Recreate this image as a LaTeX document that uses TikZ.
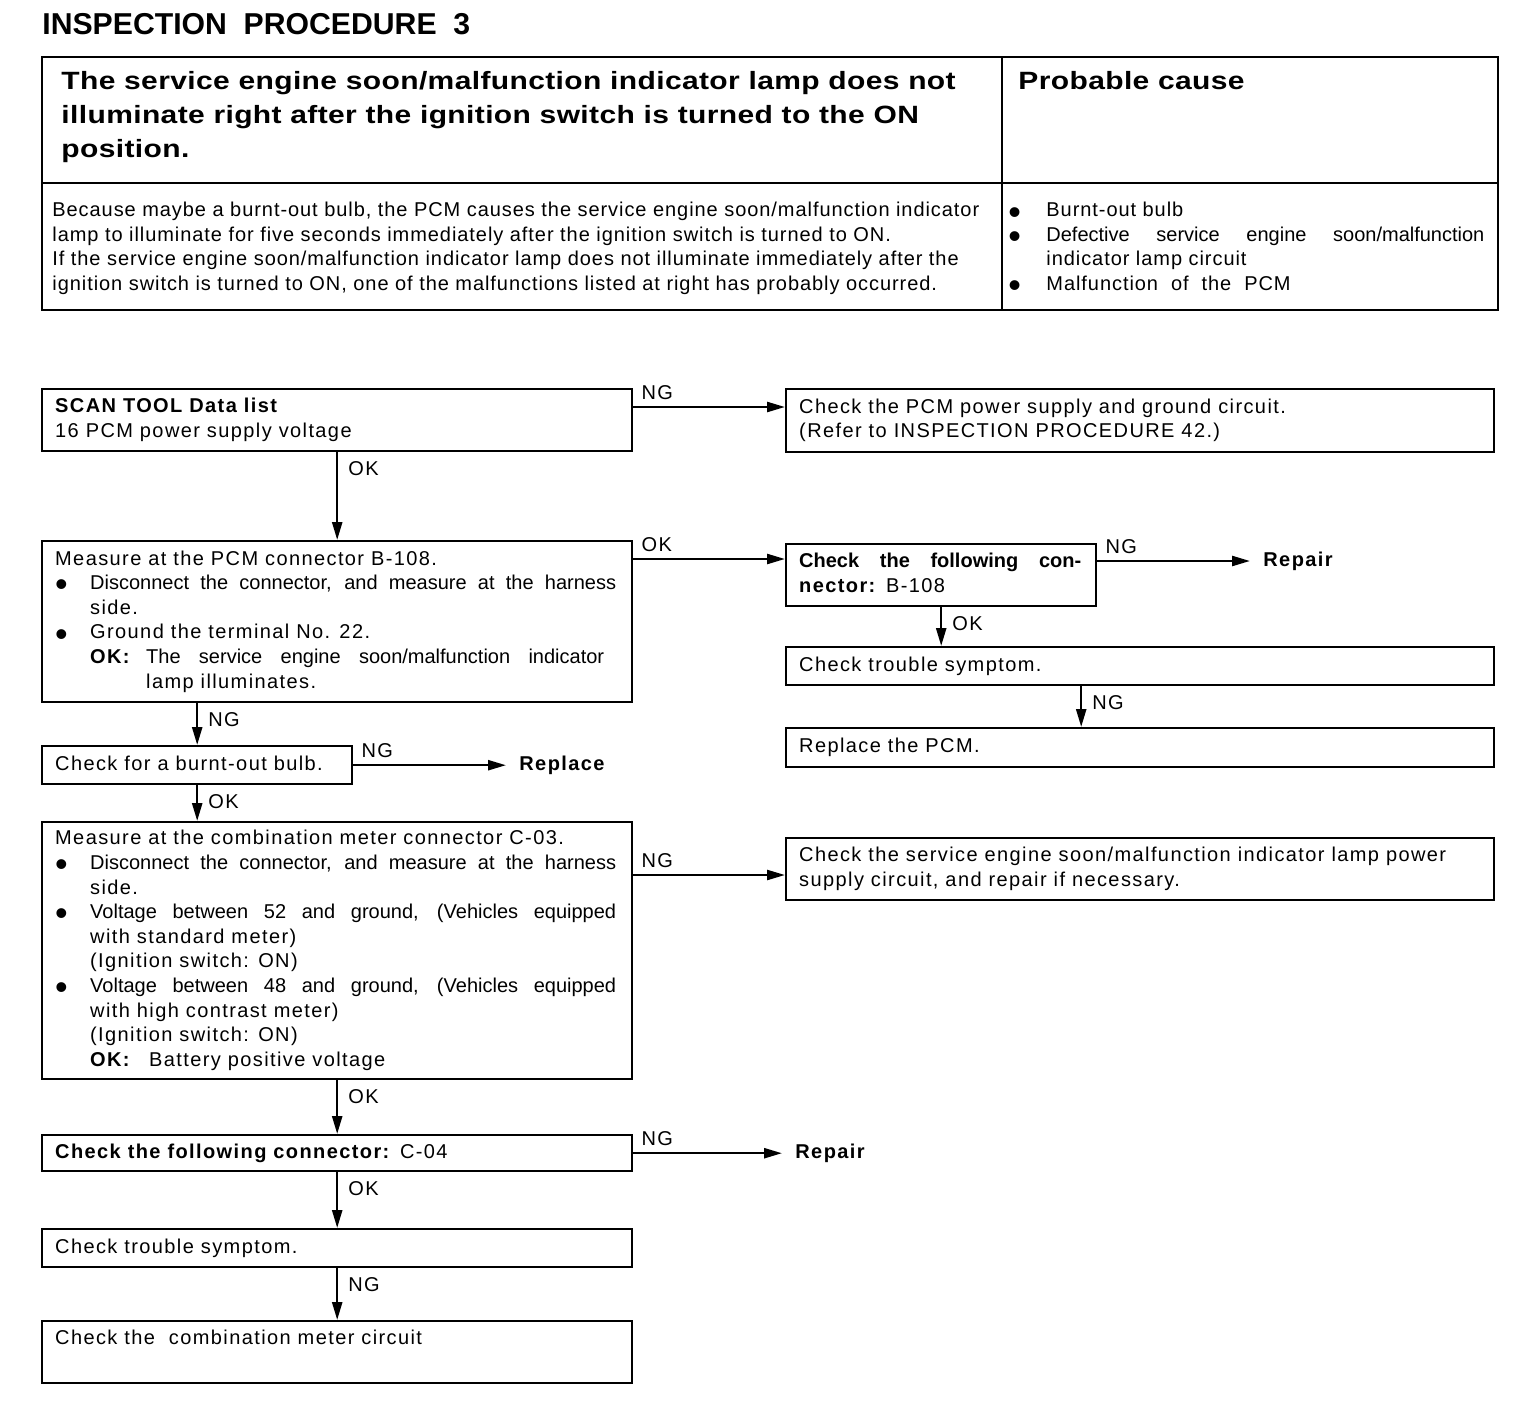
\documentclass[tikz,border=0pt]{standalone}
\usepackage{graphicx}
\usepackage{fontspec}
\setmainfont{Liberation Sans}
\newfontfamily\flowfont[LetterSpace=7]{Liberation Sans}
\newfontfamily\tabfont[LetterSpace=4.7]{Liberation Sans}
\newfontfamily\headfont[FakeStretch=1.2, LetterSpace=1.5]{Liberation Sans}
\usetikzlibrary{arrows.meta, positioning, calc}

\newcommand{\fs}{\fontsize{10pt}{12.3pt}\selectfont}
\newcommand{\dotmark}{\smash{\raisebox{-0.36em}{\scalebox{1.8}{\textbullet}}}}
\newcommand{\bitem}{\makebox[17.5pt][l]{\dotmark}}
\newcommand{\bcont}{\hspace*{17.5pt}}
\newcommand{\jline}[2]{\makebox[#1][s]{\rmfamily\spaceskip=0pt\relax #2}}

\begin{document}
\begin{tikzpicture}[
    x=0.5pt, y=-0.5pt,
    every node/.style={font=\flowfont\fs},
    box/.style={draw, line width=1.2pt, anchor=north west, align=flush left,
                inner xsep=6.5pt, inner ysep=0pt,
                execute at begin node=\strut, execute at end node=\strut},
    wide/.style={box, minimum width=295pt, text width=282pt},
    full/.style={box, minimum width=354pt, text width=341pt},
    narrow/.style={box, minimum width=155pt, text width=142pt},
    fix/.style={font=\flowfont\fs\bfseries, anchor=west, inner xsep=6.5pt, inner ysep=0pt},
    arr/.style={-{Triangle[length=9pt, width=5pt]}, line width=1.2pt},
    hlab/.style={pos=0, anchor=south west, inner xsep=3.5pt, inner ysep=3pt},
    vlab/.style={pos=0, anchor=north west, inner xsep=5pt, inner ysep=4pt}
]
\fill[white] (0,0) rectangle (1520,1418);
\useasboundingbox (0,0) rectangle (1520,1418);

% Title and table
\node[anchor=north west, inner sep=0pt,
      font=\fontsize{15.1pt}{18pt}\selectfont\bfseries] (title) at (42,13)
  {INSPECTION\ \ PROCEDURE\ \ 3};
\draw[line width=0.9pt] (42,57) rectangle (1498,310);
\draw[line width=0.9pt] (42,183) -- (1498,183);
\draw[line width=0.9pt] (1002,57) -- (1002,310);
\node[anchor=north west, inner sep=0pt, align=flush left,
      font=\headfont\fontsize{12.5pt}{17pt}\selectfont\bfseries] (symptom) at (61,71)
  {The service engine soon/malfunction indicator lamp does not\\
   illuminate right after the ignition switch is turned to the ON\\
   position.};
\node[anchor=north west, inner sep=0pt,
      font=\headfont\fontsize{12.5pt}{17pt}\selectfont\bfseries] (probable) at (1018,71)
  {Probable cause};
\node[anchor=north west, inner sep=0pt, align=flush left,
      font=\tabfont\fontsize{10pt}{12.25pt}\selectfont] (expl) at (52,202)
  {Because maybe a burnt-out bulb, the PCM causes the service engine soon/malfunction indicator\\
   lamp to illuminate for five seconds immediately after the ignition switch is turned to ON.\\
   If the service engine soon/malfunction indicator lamp does not illuminate immediately after the\\
   ignition switch is turned to ON, one of the malfunctions listed at right has probably occurred.};
\node[anchor=north west, inner sep=0pt, align=flush left,
      font=\tabfont\fontsize{10pt}{12.25pt}\selectfont] (causes) at (1008,202)
  {\makebox[19pt][l]{\dotmark}Burnt-out bulb\\
   \makebox[19pt][l]{\dotmark}\jline{219pt}{Defective service engine soon/malfunction}\\
   \hspace*{19pt}indicator lamp circuit\\
   \makebox[19pt][l]{\dotmark}Malfunction\ \ of\ \ the\ \ PCM};

% Left column
\node[wide, minimum height=31pt] (scan) at (41,388)
  {\textbf{SCAN TOOL Data list}\\16 PCM power supply voltage};
\node[wide, minimum height=80.5pt] (pcmcon) at (41,540)
  {Measure at the PCM connector B-108.\\
   \bitem\jline{263pt}{Disconnect the connector, and measure at the harness}\\
   \bcont side.\\
   \bitem Ground the terminal No. 22.\\
   \bcont\makebox[28pt][l]{\textbf{OK:}}\jline{229pt}{The service engine soon/malfunction indicator}\\
   \hspace*{45.5pt}lamp illuminates.};
\node[narrow, minimum height=19pt] (bulb) at (41,745)
  {Check for a burnt-out bulb.};
\node[wide, minimum height=128.5pt] (meter) at (41,821)
  {Measure at the combination meter connector C-03.\\
   \bitem\jline{263pt}{Disconnect the connector, and measure at the harness}\\
   \bcont side.\\
   \bitem\jline{263pt}{Voltage between 52 and ground, (Vehicles equipped}\\
   \bcont with standard meter)\\
   \bcont (Ignition switch: ON)\\
   \bitem\jline{263pt}{Voltage between 48 and ground, (Vehicles equipped}\\
   \bcont with high contrast meter)\\
   \bcont (Ignition switch: ON)\\
   \bcont\makebox[29.5pt][l]{\textbf{OK:}}Battery positive voltage};
\node[wide, minimum height=18pt] (conC) at (41,1134)
  {\textbf{Check the following connector:} C-04};
\node[wide, minimum height=19pt] (symL) at (41,1228)
  {Check trouble symptom.};
\node[wide, minimum height=31pt] (metcirc) at (41,1320)
  {Check the\ \ combination meter circuit\\ };

% Right column
\node[full, minimum height=31.5pt] (pcmpwr) at (785,388)
  {Check the PCM power supply and ground circuit.\\
   (Refer to INSPECTION PROCEDURE 42.)};
\node[narrow, minimum height=31pt] (conB) at (785,543)
  {\jline{141pt}{\textbf{Check the following con-}}\\\textbf{nector:} B-108};
\node[full, minimum height=19pt] (symR) at (785,646)
  {Check trouble symptom.};
\node[full, minimum height=19.5pt] (pcmrep) at (785,727)
  {Replace the PCM.};
\node[full, minimum height=31pt] (lamppwr) at (785,837)
  {Check the service engine soon/malfunction indicator lamp power\\
   supply circuit, and repair if necessary.};

% End results
\node[fix] (rep1) at (1250,561) {Repair};
\node[fix] (repl) at (bulb.east -| 506,0) {Replace};
\node[fix] (rep2) at (conC.east -| 782,0) {Repair};

% Connectors
\draw[arr] ([yshift=-9.5pt]scan.north east) -- node[hlab]{NG} ([yshift=-9.5pt]pcmpwr.north west);
\draw[arr] (scan.south) -- node[vlab]{OK} (pcmcon.north);
\draw[arr] ([yshift=-9.5pt]pcmcon.north east) -- node[hlab]{OK} ([yshift=-8pt]conB.north west);
\draw[arr] ([yshift=-9pt]conB.north east) -- node[hlab]{NG} (rep1.west);
\draw[arr] (conB.south) -- node[vlab]{OK} (conB.south |- symR.north);
\draw[arr] ([xshift=-29.5pt]symR.south) -- node[vlab]{NG} ([xshift=-29.5pt]pcmrep.north);
\draw[arr] (pcmcon.south -| bulb.north) -- node[vlab]{NG} (bulb.north);
\draw[arr] (bulb.east) -- node[hlab]{NG} (repl.west);
\draw[arr] (bulb.south) -- node[vlab]{OK} (bulb.south |- meter.north);
\draw[arr] ([yshift=-27pt]meter.north east) -- node[hlab]{NG} ([yshift=-19pt]lamppwr.north west);
\draw[arr] (meter.south) -- node[vlab]{OK} (conC.north);
\draw[arr] (conC.east) -- node[hlab]{NG} (rep2.west);
\draw[arr] (conC.south) -- node[vlab]{OK} (symL.north);
\draw[arr] (symL.south) -- node[vlab]{NG} (metcirc.north);
\end{tikzpicture}
\end{document}
